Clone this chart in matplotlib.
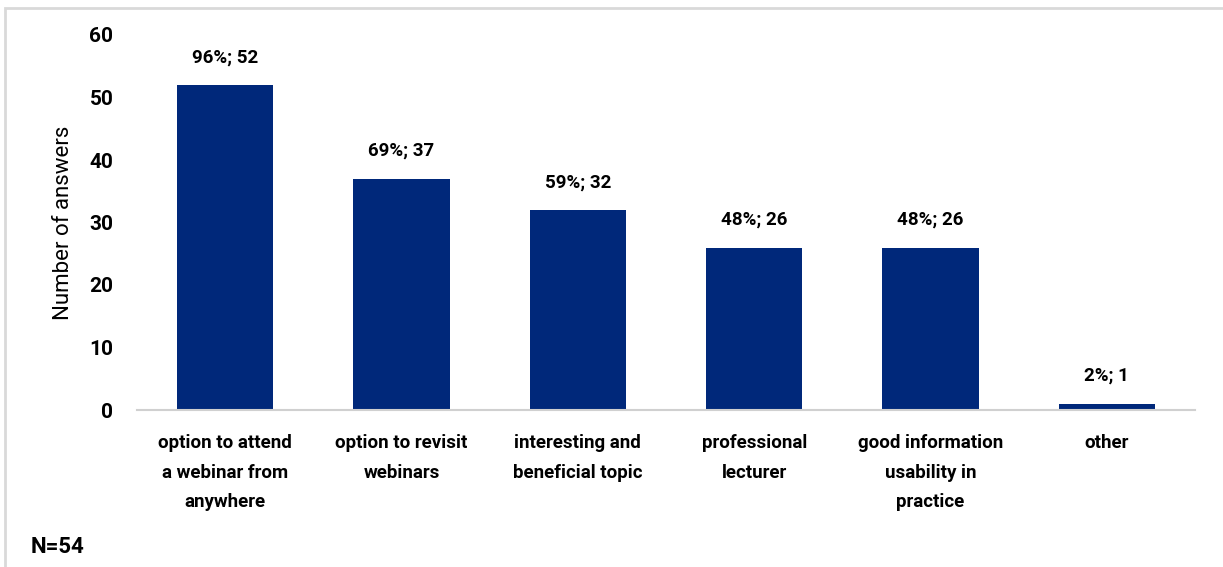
import numpy as np
import matplotlib.pyplot as plt
from matplotlib.patches import Rectangle

plt.rcParams['font.family'] = ['Roboto', 'DejaVu Sans']

categories = ["option to attend\na webinar from\nanywhere",
              "option to revisit\nwebinars",
              "interesting and\nbeneficial topic",
              "professional\nlecturer",
              "good information\nusability in\npractice",
              "other"]
counts = [52, 37, 32, 26, 26, 1]
percents = [96, 69, 59, 48, 48, 2]
yticks = [0, 10, 20, 30, 40, 50, 60]

fig = plt.figure(figsize=(12.23, 5.67), dpi=100)
ax = fig.add_axes([137 / 1223, 1 - 410 / 567, (1195 - 137) / 1223, 375 / 567])

x = np.arange(len(categories))
bars = ax.bar(x, counts, width=0.545, color="#00287A", zorder=2)

for b, c, p in zip(bars, counts, percents):
    ax.text(b.get_x() + b.get_width() / 2, c + 3.0, f"{p}%; {c}",
            ha="center", va="bottom", fontsize=13.5, fontweight="bold")

ax.set_xlim(-0.5, len(categories) - 0.5)
ax.set_ylim(0, 60)
ax.set_yticks(yticks)
ax.set_yticklabels([str(t) for t in yticks], fontsize=15, fontweight="bold")
ax.set_xticks(x)
ax.set_xticklabels(categories, fontsize=13.5, fontweight="bold", linespacing=1.85)
ax.tick_params(length=0, pad=17, axis="y")
ax.tick_params(length=0, pad=17, axis="x")

for s in ["top", "right", "left"]:
    ax.spines[s].set_visible(False)
ax.spines["bottom"].set_color("#d0d0d0")
ax.spines["bottom"].set_linewidth(1.5)

ax.set_ylabel("Number of answers", fontsize=16)
ax.yaxis.set_label_coords(-0.06, 0.5)

fig.text(31 / 1223, 1 - 547 / 567, "N=54", fontsize=16, fontweight="bold",
         va="center", ha="left")

# light frame around the chart area
fig.patches.append(Rectangle((5 / 1223, -0.01), 1.0, 1 - 8 / 567 + 0.01,
                             transform=fig.transFigure, fill=False,
                             edgecolor="#d9d9d9", linewidth=2))

fig.savefig("out.png", dpi=100)
